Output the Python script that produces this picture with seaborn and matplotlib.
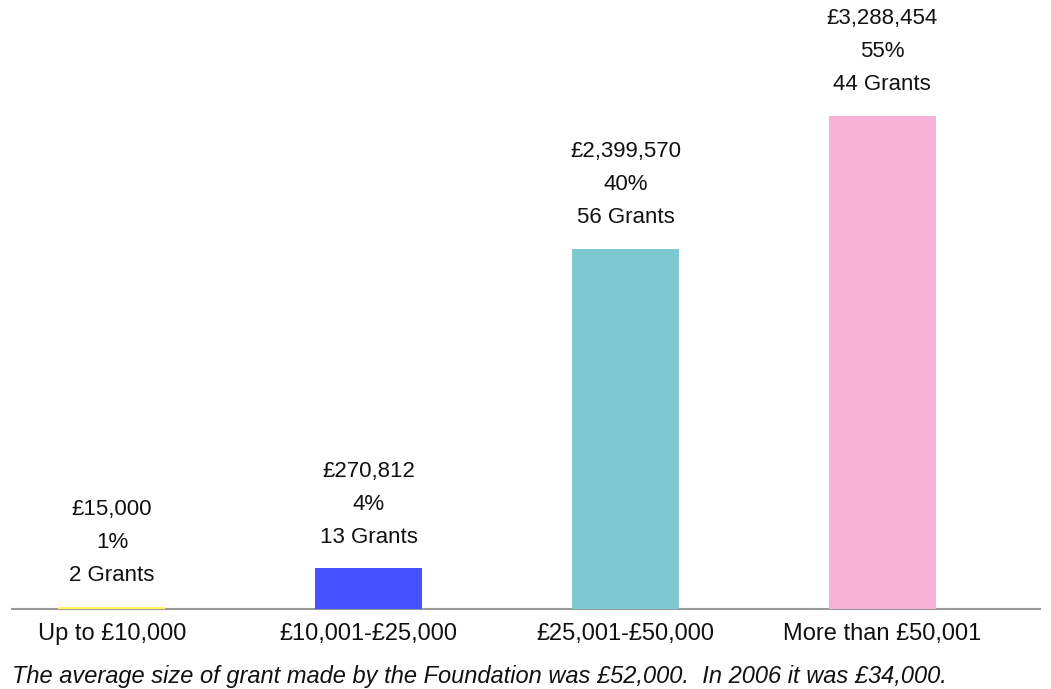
import pandas as pd
import seaborn as sns
import matplotlib.pyplot as plt

# grant size bands
bands = ['Up to £10,000', '£10,001-£25,000', '£25,001-£50,000', 'More than £50,001']
amounts = [15000, 270812, 2399570, 3288454]
percents = [1, 4, 40, 55]
grants = [2, 13, 56, 44]
colors = ['#FFF957', '#4652FE', '#80C8D0', '#F7B2D6']
note = 'The average size of grant made by the Foundation was £52,000.  In 2006 it was £34,000.'

df = pd.DataFrame({'band': bands, 'amount': amounts})

sns.set_style('white')
plt.rcParams['font.family'] = ['Liberation Sans', 'DejaVu Sans']

fig = plt.figure(figsize=(10.51, 6.89), dpi=100)
ax = fig.add_axes([12 / 1051, 1 - 609 / 689, (1040 - 12) / 1051, 609 / 689])

sns.barplot(data=df, x='band', y='amount', hue='band', palette=colors,
            width=0.416, saturation=1, linewidth=0, legend=False, ax=ax)

# labels above each bar
for i, (a, p, g) in enumerate(zip(amounts, percents, grants)):
    ax.annotate(f'£{a:,}\n{p}%\n{g} Grants', xy=(i, a), xytext=(0, 15),
                textcoords='offset points', ha='center', va='bottom',
                fontsize=16, color='#111111', linespacing=1.75)

ax.set_xlim(-0.389, 3.614)
ax.set_ylim(0, 3288454 * 609 / 493)
ax.set_xlabel('')
ax.set_ylabel('')
ax.set_yticks([])
ax.tick_params(axis='x', length=0, pad=10, labelsize=17, labelcolor='#111111')
for s in ['top', 'right', 'left']:
    ax.spines[s].set_visible(False)
ax.spines['bottom'].set_color('#999999')
ax.spines['bottom'].set_linewidth(1.5)
ax.spines['bottom'].set_zorder(0.5)  # keep the tiny yellow bar visible

fig.text(12 / 1051, 1 - 676 / 689, note, fontsize=17, style='italic',
         color='#111111', va='center', ha='left')

fig.savefig('out.png', dpi=100)
